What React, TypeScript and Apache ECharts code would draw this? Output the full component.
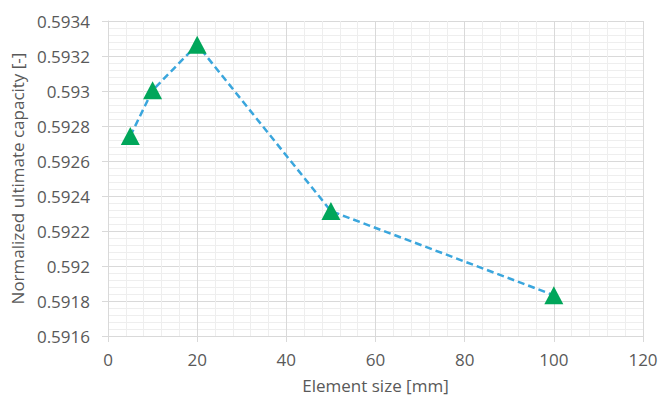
import React, { useEffect, useRef } from "react";
import * as echarts from "echarts";

const elementSizes = [5, 10, 20, 50, 100];
const capacities = [0.592743, 0.593004, 0.593265, 0.592314, 0.591833];
const xTitle = "Element size [mm]";
const yTitle = "Normalized ultimate capacity [-]";

export default function App() {
  const ref = useRef<HTMLDivElement>(null);
  useEffect(() => {
    const chart = echarts.init(ref.current!, null, { renderer: "svg" });
    const font = "'Open Sans', 'Noto Sans', sans-serif";
    const grey = "#595959";
    chart.setOption({
      animation: false,
      backgroundColor: "#ffffff",
      grid: { left: 108, top: 21, right: 15, bottom: 65, containLabel: false, outerBoundsMode: "none" },
      xAxis: {
        type: "value",
        min: 0,
        max: 120,
        interval: 20,
        name: xTitle,
        nameLocation: "middle",
        nameGap: 41,
        nameTextStyle: { color: grey, fontSize: 17, fontFamily: font },
        axisLine: { show: true, lineStyle: { color: "#d9d9d9", width: 1 } },
        axisTick: { show: true, length: 6, lineStyle: { color: "#d9d9d9" } },
        axisLabel: { color: grey, fontSize: 17, fontFamily: font, margin: 15 },
        splitLine: { show: true, lineStyle: { color: "#d9d9d9", width: 1 } },
        minorTick: { show: false, splitNumber: 5 },
        minorSplitLine: { show: true, lineStyle: { color: "#eeeeee", width: 1 } },
      },
      yAxis: {
        type: "value",
        min: 0.5916,
        max: 0.5934,
        interval: 0.0002,
        name: yTitle,
        nameLocation: "middle",
        nameGap: 81,
        nameTextStyle: { color: grey, fontSize: 17, fontFamily: font },
        axisLine: { show: true, lineStyle: { color: "#d9d9d9", width: 1 } },
        axisTick: { show: true, length: 6, lineStyle: { color: "#d9d9d9" } },
        axisLabel: {
          color: grey,
          fontSize: 17,
          fontFamily: font,
          margin: 18,
          formatter: (v: number) => String(+v.toFixed(4)),
        },
        splitLine: { show: true, lineStyle: { color: "#d9d9d9", width: 1 } },
        minorTick: { show: false, splitNumber: 5 },
        minorSplitLine: { show: true, lineStyle: { color: "#eeeeee", width: 1 } },
      },
      series: [
        {
          type: "line",
          data: elementSizes.map((x, i) => [x, capacities[i]]),
          symbol: "triangle",
          symbolSize: [19, 18],
          itemStyle: { color: "#00A65A" },
          lineStyle: { color: "#3aa6dd", width: 2.5, type: [7, 4] },
          z: 3,
        },
      ],
    });
    return () => chart.dispose();
  }, []);
  return <div ref={ref} style={{ width: 658, height: 401, position: "absolute", left: 0, top: 0 }} />;
}
